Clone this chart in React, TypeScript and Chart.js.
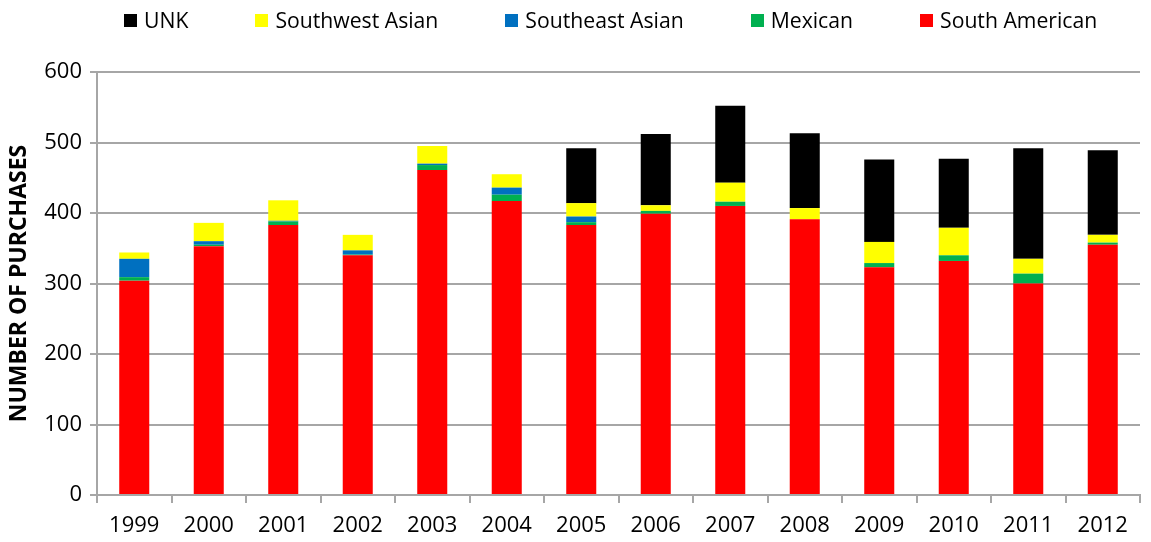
import React, { useEffect, useRef } from "react";
import { Chart, registerables } from "chart.js";

Chart.register(...registerables);

const years = ["1999", "2000", "2001", "2002", "2003", "2004", "2005", "2006", "2007", "2008", "2009", "2010", "2011", "2012"];
const southAmerican = [304, 353, 383, 340, 461, 417, 383, 399, 410, 391, 323, 332, 300, 355];
const mexican = [5, 2, 5, 1, 7, 9, 4, 4, 6, 0, 6, 8, 14, 3];
const southeastAsian = [26, 5, 1, 6, 2, 10, 8, 0, 0, 0, 0, 0, 0, 0];
const southwestAsian = [9, 26, 29, 22, 25, 19, 19, 8, 27, 16, 30, 39, 21, 11];
const unk = [0, 0, 0, 0, 0, 0, 78, 101, 109, 106, 117, 98, 157, 120];
const yTicks = [0, 100, 200, 300, 400, 500, 600];

const seriesNames = ["South American", "Mexican", "Southeast Asian", "Southwest Asian", "UNK"];
const seriesColors = ["#FF0000", "#00B050", "#0070C0", "#FFFF00", "#000000"];
const seriesValues = [southAmerican, mexican, southeastAsian, southwestAsian, unk];

const GRID = "#A6A6A6";
const FONT = "'Open Sans', sans-serif";

export default function App() {
  const canvasRef = useRef<HTMLCanvasElement | null>(null);

  useEffect(() => {
    if (!canvasRef.current) return;
    const chart = new Chart(canvasRef.current, {
      type: "bar",
      data: {
        labels: years,
        datasets: seriesNames.map((name, i) => ({
          label: name,
          data: seriesValues[i],
          backgroundColor: seriesColors[i],
          borderWidth: 0,
          barPercentage: 0.403,
          categoryPercentage: 1,
        })),
      },
      options: {
        animation: false,
        responsive: true,
        maintainAspectRatio: false,
        layout: { padding: { top: 64, right: 3, left: 0, bottom: 0 } },
        plugins: {
          legend: { display: false },
          tooltip: { enabled: false },
        },
        scales: {
          x: {
            stacked: true,
            grid: {
              display: true,
              drawOnChartArea: false,
              drawTicks: true,
              tickLength: 8,
              offset: true,
              color: GRID,
              lineWidth: 2,
            },
            border: { display: true, color: GRID, width: 2 },
            ticks: {
              color: "#000",
              font: { family: FONT, size: 22 },
              padding: 10,
              maxRotation: 0,
            },
            afterFit: (scale: any) => {
              scale.height = 39;
            },
          },
          y: {
            stacked: true,
            min: 0,
            max: 600,
            afterBuildTicks: (scale: any) => {
              scale.ticks = yTicks.map((v) => ({ value: v }));
            },
            grid: {
              color: GRID,
              lineWidth: 2,
              drawTicks: true,
              tickLength: 7,
            },
            border: { display: true, color: GRID, width: 2 },
            ticks: {
              color: "#000",
              font: { family: FONT, size: 22 },
              padding: 8,
            },
            title: {
              display: true,
              text: "NUMBER OF PURCHASES",
              color: "#000",
              font: { family: FONT, size: 23, weight: "bold", lineHeight: 1 },
              padding: { top: 0, bottom: 0 },
            },
            afterFit: (scale: any) => {
              scale.width = 89;
            },
          },
        },
      },
    });
    return () => chart.destroy();
  }, []);

  const legendOrder = [4, 3, 2, 1, 0];

  return (
    <div style={{ position: "relative", width: 1135, height: 526 }}>
      <canvas ref={canvasRef} />
      <div
        style={{
          position: "absolute",
          left: 116,
          top: 0,
          height: 24,
          display: "flex",
          alignItems: "center",
          gap: 67,
          fontFamily: FONT,
          fontSize: 21.2,
          color: "#000",
          whiteSpace: "nowrap",
        }}
      >
        {legendOrder.map((i) => (
          <div key={seriesNames[i]} style={{ display: "flex", alignItems: "center" }}>
            <span
              style={{
                display: "inline-block",
                width: 13,
                height: 13,
                background: seriesColors[i],
                marginRight: 7,
              }}
            />
            <span style={{ lineHeight: "24px" }}>{seriesNames[i]}</span>
          </div>
        ))}
      </div>
    </div>
  );
}
